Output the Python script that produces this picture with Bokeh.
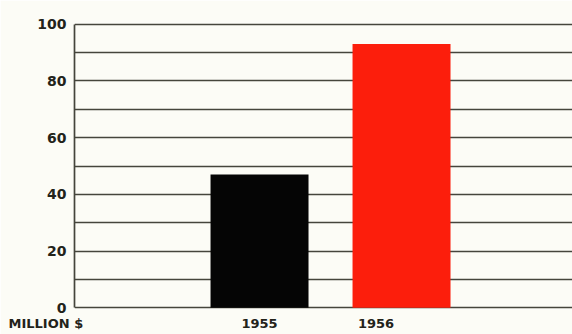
from bokeh.plotting import figure
from bokeh.models import Range1d, SingleIntervalTicker, FixedTicker, Title
from bokeh.embed import file_html
from bokeh.resources import INLINE

# Annual sales, million dollars
years = ["1955", "1956"]
sales = [47, 93]
bar_colors = ["#050505", "#fc1e0c"]
y_tick_values = [0, 20, 40, 60, 80, 100]

PAPER = "#fcfcf6"
INK = "#23231a"
RULE = "#45453c"
FONT = "DejaVu Sans"

idx = list(range(len(years)))

p = figure(
    width=572, height=334,
    x_range=Range1d(-1.303, 2.204),
    y_range=Range1d(-0.6, 100.6),
    output_backend="svg", toolbar_location=None,
    min_border_left=74, min_border_right=0,
    min_border_top=22, min_border_bottom=25,
)
p.background_fill_color = PAPER
p.border_fill_color = PAPER
p.outline_line_color = None

# bars
p.vbar(x=idx, top=sales, width=0.69, bottom=0, color=bar_colors, line_color=None)

# horizontal rules every 10 units
p.xgrid.visible = False
p.ygrid.ticker = SingleIntervalTicker(interval=10)
p.ygrid.grid_line_color = RULE
p.ygrid.grid_line_width = 1.7
p.ygrid.level = "underlay"

# left axis
p.yaxis.ticker = FixedTicker(ticks=y_tick_values)
p.yaxis.bounds = (0, 100)
p.yaxis.axis_line_color = RULE
p.yaxis.axis_line_width = 1.7
p.yaxis.major_tick_line_color = None
p.yaxis.minor_tick_line_color = None
p.yaxis.major_label_standoff = 2
p.yaxis.major_label_text_font = FONT
p.yaxis.major_label_text_font_style = "bold"
p.yaxis.major_label_text_font_size = "14px"
p.yaxis.major_label_text_color = INK

# bottom axis: year labels (the second sits a little left of its bar)
label_shift = [0.0, -0.18]
tick_pos = [i + s for i, s in zip(idx, label_shift)]
p.xaxis.ticker = FixedTicker(ticks=tick_pos)
p.xaxis.major_label_overrides = {t: y for t, y in zip(tick_pos, years)}
p.xaxis.axis_line_color = None
p.xaxis.major_tick_line_color = None
p.xaxis.minor_tick_line_color = None
p.xaxis.major_label_standoff = 3
p.xaxis.major_label_text_font = FONT
p.xaxis.major_label_text_font_style = "bold"
p.xaxis.major_label_text_font_size = "13px"
p.xaxis.major_label_text_color = INK

# unit caption on the same line as the years, at the far left
p.add_layout(Title(
    text="MILLION $", align="left", offset=-66, standoff=-30,
    vertical_align="top",
    text_font=FONT, text_font_style="bold",
    text_font_size="13px", text_color=INK,
), "below")

open("out.html", "w").write(file_html(p, INLINE))
